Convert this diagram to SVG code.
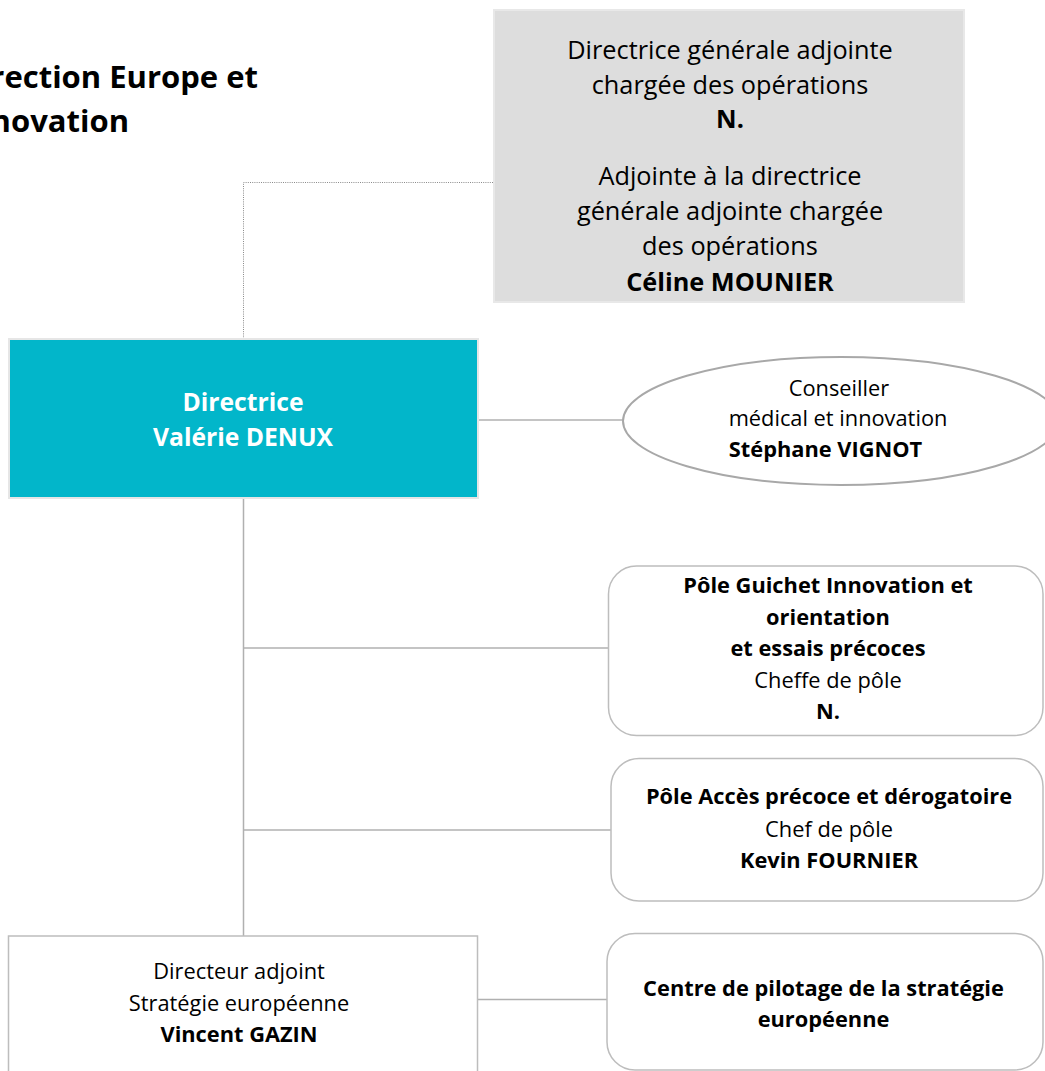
<svg xmlns="http://www.w3.org/2000/svg" width="1045" height="1071" viewBox="0 0 1045 1071">
<style>
text{font-family:"Open Sans","Liberation Sans",sans-serif;fill:#000;text-anchor:middle}
.b{font-weight:bold}
.t{font-size:31px;font-weight:bold;text-anchor:end}
.g{font-size:25.3px}
.s{font-size:21.8px}
.w{fill:#fff;font-size:24.7px;font-weight:bold}
.box{fill:#fff;stroke:#bdbdbd;stroke-width:1.5}
.conn{stroke:#b0b0b0;stroke-width:1.5;fill:none}
</style>
<rect width="1045" height="1071" fill="#fff"/>
<g id="title">
<text class="t" x="258" y="88">Direction Europe et</text>
<text class="t" x="129" y="131.5">Innovation</text>
</g>
<g id="connectors">
<path d="M493,182.5 H243.5 V338" fill="none" stroke="#8a8a8a" stroke-width="1" stroke-dasharray="1,1.2"/>
<line class="conn" x1="479" y1="420" x2="623" y2="420"/>
<line class="conn" x1="243.5" y1="499" x2="243.5" y2="936" stroke-width="1.2"/>
<line class="conn" x1="244" y1="648" x2="608" y2="648"/>
<line class="conn" x1="244" y1="830" x2="611" y2="830"/>
<line class="conn" x1="478" y1="999.5" x2="607" y2="999.5"/>
</g>
<g id="dga">
<rect x="494" y="10" width="470" height="292" fill="#dddddd" stroke="#e8e8e8" stroke-width="2"/>
<text class="g" x="730" y="59">Directrice générale adjointe</text>
<text class="g" x="730" y="94">chargée des opérations</text>
<text class="g b" x="730" y="128">N.</text>
<text class="g" x="730" y="185">Adjointe à la directrice</text>
<text class="g" x="730" y="220">générale adjointe chargée</text>
<text class="g" x="730" y="255">des opérations</text>
<text class="g b" x="730" y="291">Céline MOUNIER</text>
</g>
<g id="directrice">
<rect x="9" y="339" width="469" height="159" fill="#02b6ca" stroke="#e6e6e6" stroke-width="2"/>
<text class="w" x="243" y="410.5">Directrice</text>
<text class="w" x="243" y="446">Valérie DENUX</text>
</g>
<g id="conseiller">
<ellipse cx="841" cy="421" rx="218" ry="64" fill="#fff" stroke="#a8a8a8" stroke-width="2"/>
<text class="s" x="839" y="396">Conseiller</text>
<text class="s" x="838" y="426">médical et innovation</text>
<text class="s b" x="825.5" y="457">Stéphane VIGNOT</text>
</g>
<g id="pole-guichet">
<rect class="box" x="608.5" y="566" width="434.5" height="169.5" rx="28"/>
<text class="s b" x="828" y="593">Pôle Guichet Innovation et</text>
<text class="s b" x="828" y="624.5">orientation</text>
<text class="s b" x="828" y="656">et essais précoces</text>
<text class="s" x="828" y="687.5">Cheffe de pôle</text>
<text class="s b" x="828" y="719">N.</text>
</g>
<g id="pole-acces">
<rect class="box" x="611" y="758.5" width="432" height="142.5" rx="28"/>
<text class="s b" x="829" y="804">Pôle  Accès précoce et dérogatoire</text>
<text class="s" x="829" y="836.5">Chef de pôle</text>
<text class="s b" x="829" y="868">Kevin FOURNIER</text>
</g>
<g id="directeur-adjoint">
<rect class="box" x="8.5" y="936" width="469" height="140"/>
<text class="s" x="239" y="979">Directeur adjoint</text>
<text class="s" x="239" y="1010.5">Stratégie européenne</text>
<text class="s b" x="239" y="1042">Vincent GAZIN</text>
</g>
<g id="centre-pilotage">
<rect class="box" x="607" y="933.5" width="436" height="136.5" rx="28"/>
<text class="s b" x="823.5" y="996">Centre de pilotage de la stratégie</text>
<text class="s b" x="823.5" y="1027">européenne</text>
</g>
</svg>
